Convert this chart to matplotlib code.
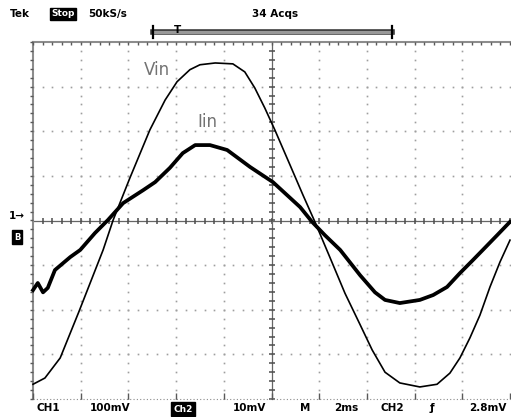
import numpy as np
import matplotlib
matplotlib.use("Agg")
import matplotlib.pyplot as plt

# waveforms, in graticule divisions (x: 0..10, y: -4..4)
vin_x = [0.00, 0.25, 0.57, 0.96, 1.47, 1.68, 2.03, 2.45, 2.77, 3.02, 3.29, 3.50,
         3.82, 4.19, 4.44, 4.65, 4.86, 5.07, 5.39, 5.66, 5.91, 6.23, 6.54, 6.86,
         7.11, 7.38, 7.69, 8.11, 8.47, 8.74, 8.95, 9.16, 9.37, 9.58, 9.79, 10.0]
vin_y = [-3.67, -3.53, -3.08, -2.05, -0.66, 0.01, 0.95, 2.03, 2.70, 3.11, 3.38, 3.49,
         3.53, 3.51, 3.33, 2.97, 2.52, 2.03, 1.24, 0.57, -0.03, -0.84, -1.63, -2.34,
         -2.90, -3.40, -3.64, -3.73, -3.67, -3.42, -3.08, -2.63, -2.12, -1.49, -0.93, -0.44]

iin_x = [0.00, 0.10, 0.21, 0.31, 0.46, 0.78, 0.99, 1.30, 1.57, 1.89, 2.31, 2.56,
         2.87, 3.14, 3.40, 3.71, 4.07, 4.55, 5.03, 5.60, 5.85, 6.12, 6.44, 6.86,
         7.17, 7.38, 7.69, 8.11, 8.39, 8.68, 8.95, 9.22, 9.43, 9.73, 10.0]
iin_y = [-1.56, -1.40, -1.61, -1.51, -1.11, -0.82, -0.66, -0.28, 0.01, 0.39, 0.68, 0.86,
         1.18, 1.51, 1.69, 1.69, 1.58, 1.20, 0.86, 0.30, -0.03, -0.33, -0.66, -1.23,
         -1.61, -1.78, -1.85, -1.78, -1.67, -1.49, -1.18, -0.89, -0.66, -0.33, -0.03]

bottom_labels = ["CH1", "100mV", "10mV", "M", "2ms", "CH2", "\u0192", "2.8mV"]
bottom_label_px = [48, 110, 250, 305, 346, 392, 432, 488]

W, H = 511, 417
fig = plt.figure(figsize=(W / 100, H / 100), dpi=100)
fig.patch.set_facecolor("white")

def fx(px):
    return px / W

def fy(py):
    return 1 - py / H

ax = fig.add_axes([fx(33), fy(399), fx(510) - fx(33), fy(42) - fy(399)])
ax.set_xlim(0, 10)
ax.set_ylim(-4, 4)
ax.axis("off")

grey = "0.55"
dot = "0.62"
minor = np.arange(0, 10.01, 0.2)
minor_y = np.arange(-4, 4.01, 0.2)

# dotted graticule
for gy in range(-3, 4):
    if gy == 0:
        continue
    ax.plot(minor, np.full_like(minor, gy), ls="none", marker="s", ms=1.2, color=dot, mew=0)
for gx in range(1, 10):
    if gx == 5:
        continue
    ax.plot(np.full_like(minor_y, gx), minor_y, ls="none", marker="s", ms=1.2, color=dot, mew=0)

# center cross with ticks
ax.plot([0, 10], [0, 0], color="0.4", lw=0.9, clip_on=False)
ax.plot(minor, np.zeros_like(minor), ls="none", marker="|", ms=4.5, mew=1.1, color="0.3")
ax.plot([5, 5], [-4, 4], color="0.4", lw=0.9, clip_on=False)
ax.plot(np.full_like(minor_y, 5), minor_y, ls="none", marker="_", ms=4.5, mew=1.1, color="0.3")

# border with ticks
ax.plot([0, 0], [-4, 4], color=grey, lw=1.5, clip_on=False)
ax.plot([0, 10], [4, 4], color=grey, lw=1.5, clip_on=False)
ax.plot([0, 10], [-4, -4], color=grey, lw=0.8, ls=(0, (1, 2)), clip_on=False)
ax.plot(np.zeros_like(minor_y), minor_y, ls="none", marker=0, ms=2.5, mew=1, color="0.35", clip_on=False)
ax.plot(minor, np.full_like(minor, 4), ls="none", marker=3, ms=2.5, mew=1, color="0.35", clip_on=False)
ax.plot(np.arange(0, 11), np.full(11, -4), ls="none", marker=2, ms=4, mew=1, color="0.35", clip_on=False)

# traces
ax.plot(vin_x, vin_y, color="black", lw=1.2, solid_joinstyle="round", clip_on=False)
ax.plot(iin_x, iin_y, color="black", lw=2.7, solid_joinstyle="round", clip_on=False)

ax.text(2.6, 3.37, "Vin", color="0.45", fontsize=12, ha="center", va="center")
ax.text(3.65, 2.2, "Iin", color="0.45", fontsize=12, ha="center", va="center")

# top status line
fig.text(fx(10), fy(14), "Tek", fontsize=7.5, fontweight="bold", va="center", ha="left")
fig.text(fx(63), fy(14), "Stop", fontsize=6.5, fontweight="bold", va="center", ha="center",
         color="white", bbox=dict(boxstyle="square,pad=0.2", fc="black", ec="black"))
fig.text(fx(88), fy(14), "50kS/s", fontsize=7.5, fontweight="bold", va="center", ha="left")
fig.text(fx(275), fy(14), "34 Acqs", fontsize=7.5, fontweight="bold", va="center", ha="center")

# record / trigger bracket
fig.add_artist(plt.Line2D([fx(153), fx(392)], [fy(32), fy(32)], color="0.2", lw=4))
fig.add_artist(plt.Line2D([fx(154), fx(391)], [fy(32), fy(32)], color="0.6", lw=2.4))
for bx in (153, 392):
    fig.add_artist(plt.Line2D([fx(bx), fx(bx)], [fy(26), fy(38)], color="black", lw=1.6))
fig.text(fx(177), fy(30), "T", fontsize=7.5, fontweight="bold", ha="center", va="center")

# channel marker on the left
fig.text(fx(17), fy(216), "1\u2192", fontsize=7.5, fontweight="bold", ha="center", va="center")
fig.text(fx(17), fy(237), "B", fontsize=6, fontweight="bold", ha="center", va="center",
         color="white", bbox=dict(boxstyle="square,pad=0.25", fc="black", ec="black"))

# bottom readout
for lab, px in zip(bottom_labels, bottom_label_px):
    fig.text(fx(px), fy(408), lab, fontsize=7.5, fontweight="bold", ha="center", va="center")
fig.text(fx(183), fy(409), "Ch2", fontsize=6.5, fontweight="bold", ha="center", va="center",
         color="white", bbox=dict(boxstyle="square,pad=0.25", fc="black", ec="black"))

fig.savefig("out.png", dpi=100, facecolor="white")
